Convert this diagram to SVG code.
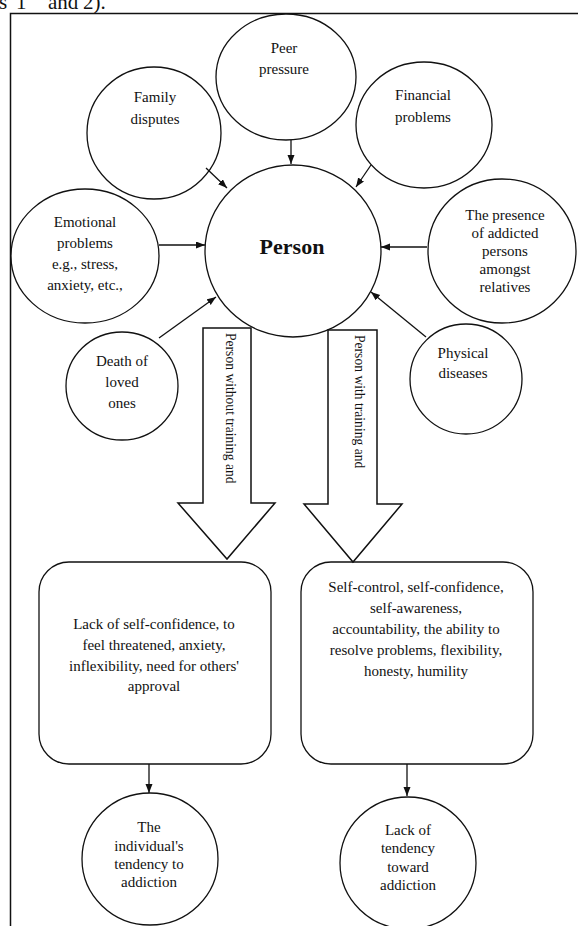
<svg xmlns="http://www.w3.org/2000/svg" width="578" height="926" viewBox="0 0 578 926" font-family="'Liberation Serif', 'Times New Roman', serif">
<style>
text{font-family:"Liberation Serif","Times New Roman",serif}
.n{fill:#fff;stroke:#111;stroke-width:1.3}
.t{font-size:15px;fill:#111;text-anchor:middle}
.c{fill:none;stroke:#111;stroke-width:1.3}
.blk{fill:#fff;stroke:#111;stroke-width:1.5}
.vt{font-size:13.6px;fill:#111}
</style>
<defs>
<marker id="ah" markerUnits="userSpaceOnUse" markerWidth="10" markerHeight="8" refX="9" refY="3.5" orient="auto">
<path d="M0,0 L9,3.5 L0,7 z" fill="#111"/>
</marker>
</defs>
<rect width="578" height="926" fill="#fff"/>
<text y="9" font-family="'Liberation Serif', serif" font-size="21" fill="#111"><tspan x="-1">s </tspan><tspan x="16">1 </tspan><tspan x="48">and </tspan><tspan x="83">2).</tspan></text>
<rect x="10.5" y="13.5" width="600" height="1000" fill="none" stroke="#111" stroke-width="1.5"/>

<g id="peer"><ellipse class="n" cx="286" cy="77" rx="70" ry="63"/><text class="t" font-family="'Liberation Serif', serif"><tspan x="284" y="53">Peer</tspan><tspan x="284" y="74">pressure</tspan></text></g>
<g id="family"><ellipse class="n" cx="154" cy="133" rx="67" ry="66"/><text class="t" font-family="'Liberation Serif', serif"><tspan x="155" y="102">Family</tspan><tspan x="155" y="124">disputes</tspan></text></g>
<g id="financial"><ellipse class="n" cx="424" cy="125" rx="68" ry="63"/><text class="t" font-family="'Liberation Serif', serif"><tspan x="423" y="100">Financial</tspan><tspan x="423" y="122">problems</tspan></text></g>
<g id="emotional"><ellipse class="n" cx="85" cy="256" rx="74" ry="67"/><text class="t" font-family="'Liberation Serif', serif"><tspan x="85" y="227">Emotional</tspan><tspan x="85" y="248">problems</tspan><tspan x="85" y="269">e.g., stress,</tspan><tspan x="85" y="290">anxiety, etc.,</tspan></text></g>
<g id="person"><ellipse class="n" cx="293" cy="251" rx="88" ry="86"/><text class="t" x="292" y="254" font-family="'Liberation Serif', serif" font-size="22" font-weight="bold" style="font-size:22px">Person</text></g>
<g id="presence"><ellipse class="n" cx="502" cy="251" rx="74" ry="72"/><text class="t" font-family="'Liberation Serif', serif"><tspan x="505" y="220">The presence</tspan><tspan x="505" y="238">of addicted</tspan><tspan x="505" y="256">persons</tspan><tspan x="505" y="274">amongst</tspan><tspan x="505" y="292">relatives</tspan></text></g>
<g id="death"><ellipse class="n" cx="122" cy="386" rx="56" ry="54"/><text class="t" font-family="'Liberation Serif', serif"><tspan x="122" y="366">Death of</tspan><tspan x="122" y="387">loved</tspan><tspan x="122" y="408">ones</tspan></text></g>
<g id="physical"><ellipse class="n" cx="466" cy="379" rx="56" ry="55"/><text class="t" font-family="'Liberation Serif', serif"><tspan x="463" y="358">Physical</tspan><tspan x="463" y="378">diseases</tspan></text></g>
<g id="lackbox"><rect class="n" x="39" y="562" width="232" height="202" rx="30"/><text class="t" font-family="'Liberation Serif', serif"><tspan x="154" y="629">Lack of self-confidence, to</tspan><tspan x="154" y="650">feel threatened, anxiety,</tspan><tspan x="154" y="671">inflexibility, need for others'</tspan><tspan x="154" y="691">approval</tspan></text></g>
<g id="skillbox"><rect class="n" x="301" y="562" width="232" height="202" rx="30"/><text class="t" font-family="'Liberation Serif', serif"><tspan x="416" y="592">Self-control, self-confidence,</tspan><tspan x="416" y="613">self-awareness,</tspan><tspan x="416" y="634">accountability, the ability to</tspan><tspan x="416" y="655">resolve problems, flexibility,</tspan><tspan x="416" y="676">honesty, humility</tspan></text></g>
<g id="tendency"><ellipse class="n" cx="150" cy="859" rx="68" ry="66"/><text class="t" font-family="'Liberation Serif', serif"><tspan x="149" y="832">The</tspan><tspan x="149" y="851">individual's</tspan><tspan x="149" y="869">tendency to</tspan><tspan x="149" y="887">addiction</tspan></text></g>
<g id="notendency"><ellipse class="n" cx="408" cy="863" rx="68" ry="66"/><text class="t" font-family="'Liberation Serif', serif"><tspan x="408" y="835">Lack of</tspan><tspan x="408" y="853">tendency</tspan><tspan x="408" y="872">toward</tspan><tspan x="408" y="890">addiction</tspan></text></g>

<g id="connectors">
<line class="c" x1="291" y1="140" x2="291" y2="164" marker-end="url(#ah)"/>
<line class="c" x1="206" y1="168" x2="227" y2="188" marker-end="url(#ah)"/>
<line class="c" x1="371" y1="165" x2="356" y2="187" marker-end="url(#ah)"/>
<line class="c" x1="159" y1="245" x2="205" y2="245" marker-end="url(#ah)"/>
<line class="c" x1="427" y1="247" x2="381" y2="247" marker-end="url(#ah)"/>
<line class="c" x1="159" y1="338" x2="216" y2="297" marker-end="url(#ah)"/>
<line class="c" x1="426" y1="337" x2="371" y2="292" marker-end="url(#ah)"/>
<line class="c" x1="149" y1="764" x2="149" y2="793" marker-end="url(#ah)"/>
<line class="c" x1="407" y1="764" x2="407" y2="796" marker-end="url(#ah)"/>
<g id="arrow-without">
<polygon class="blk" points="203,328 251,328 251,503 275,503 227,559 178,503 203,503"/>
<text class="vt" font-family="'Liberation Serif', serif" transform="translate(226,333) rotate(90)">Person without training and</text>
</g>
<g id="arrow-with">
<polygon class="blk" points="328,330 377,330 377,504 402,504 353,562 304,504 328,504"/>
<text class="vt" font-family="'Liberation Serif', serif" transform="translate(355,335) rotate(90)">Person with training and</text>
</g>
</g>
</svg>
